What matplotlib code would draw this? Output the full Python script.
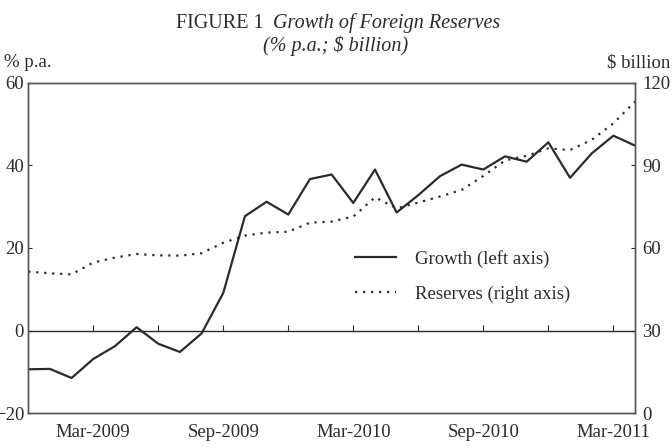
import matplotlib

matplotlib.use("Agg")
import matplotlib.pyplot as plt

# Monthly data, Dec-2008 .. Apr-2011
months = ["Dec-2008", "Jan-2009", "Feb-2009", "Mar-2009", "Apr-2009", "May-2009",
          "Jun-2009", "Jul-2009", "Aug-2009", "Sep-2009", "Oct-2009", "Nov-2009",
          "Dec-2009", "Jan-2010", "Feb-2010", "Mar-2010", "Apr-2010", "May-2010",
          "Jun-2010", "Jul-2010", "Aug-2010", "Sep-2010", "Oct-2010", "Nov-2010",
          "Dec-2010", "Jan-2011", "Feb-2011", "Mar-2011", "Apr-2011"]

growth = [-9.4, -9.3, -11.5, -6.9, -3.8, 0.8, -3.2, -5.2, -0.7, 9.1, 27.7, 31.2,
          28.1, 36.7, 37.8, 30.9, 39.0, 28.6, 32.8, 37.4, 40.2, 39.0, 42.2, 40.9,
          45.6, 37.0, 42.9, 47.2, 44.8]

reserves = [51.4, 50.8, 50.4, 54.7, 56.5, 57.8, 57.3, 57.2, 58.1, 61.9, 64.5, 65.6,
            65.9, 69.2, 69.6, 71.4, 78.4, 74.4, 76.5, 78.7, 81.1, 86.2, 91.8, 93.5,
            96.2, 95.6, 99.3, 105.3, 113.2]

tick_labels = ["Mar-2009", "Sep-2009", "Mar-2010", "Sep-2010", "Mar-2011"]

INK = "#2b2b2b"
GREY = "#555555"

plt.rcParams["font.family"] = ["Liberation Serif", "DejaVu Serif"]
plt.rcParams["font.size"] = 13.5

fig = plt.figure(figsize=(6.72, 4.48), dpi=100)
ax = fig.add_axes([0.042, 0.078, 0.903, 0.737])
ax2 = ax.twinx()

x = list(range(len(months)))

ax.plot(x, growth, color=INK, lw=1.6, label="Growth (left axis)")
ax2.plot(x, reserves, color=INK, lw=1.6, ls=(0, (1, 2.6)), label="Reserves (right axis)")

ax.set_xlim(0, len(months) - 1)
ax.set_ylim(-20, 60)
ax.set_yticks([-20, 0, 20, 40, 60])
ax2.set_ylim(0, 120)
ax2.set_yticks([0, 30, 60, 90, 120])

# zero line with small quarterly ticks
ax.axhline(0, color=INK, lw=1.0)
quarter_x = [i for i, m in enumerate(months) if m[:3] in ("Mar", "Jun", "Sep", "Dec")][1:]
ax.vlines(quarter_x, 0, 1.3, color=INK, lw=0.8)

label_x = [months.index(m) for m in tick_labels]
ax.set_xticks(label_x)
ax.set_xticklabels(tick_labels)
ax.tick_params(axis="x", length=0, pad=8, colors=INK)
ax.tick_params(axis="y", direction="in", length=3, pad=3, colors=INK)
ax2.tick_params(axis="y", direction="in", length=3, pad=5, colors=INK)
for a in (ax, ax2):
    for s in a.spines.values():
        s.set_color(GREY)
        s.set_linewidth(1.0)

# title: upright "FIGURE 1" + italic subtitle, centred as one line
t1 = fig.text(0, 0.948, "FIGURE 1  ", ha="left", va="center", fontsize=14.5, color=INK)
t2 = fig.text(0, 0.948, "Growth of Foreign Reserves", ha="left", va="center",
              fontsize=14.5, style="italic", color=INK)
r = fig.canvas.get_renderer()
w1 = t1.get_window_extent(r).width / fig.bbox.width
w2 = t2.get_window_extent(r).width / fig.bbox.width
x0 = 0.503 - (w1 + w2) / 2
t1.set_x(x0)
t2.set_x(x0 + w1)
fig.text(0.5, 0.898, "(% p.a.; $ billion)", ha="center", va="center",
         fontsize=14.5, style="italic", color=INK)
fig.text(0.006, 0.86, "% p.a.", ha="left", va="center", fontsize=13.5, color=INK)
fig.text(0.997, 0.86, "$ billion", ha="right", va="center", fontsize=13.5, color=INK)

h1, l1 = ax.get_legend_handles_labels()
h2, l2 = ax2.get_legend_handles_labels()
leg = ax2.legend(h1 + h2, l1 + l2, loc="upper left", bbox_to_anchor=(0.51, 0.545),
                 frameon=False, handlelength=2.2, handletextpad=1.0, labelspacing=0.95)
for t in leg.get_texts():
    t.set_color(INK)

fig.savefig("out.png", dpi=100)
